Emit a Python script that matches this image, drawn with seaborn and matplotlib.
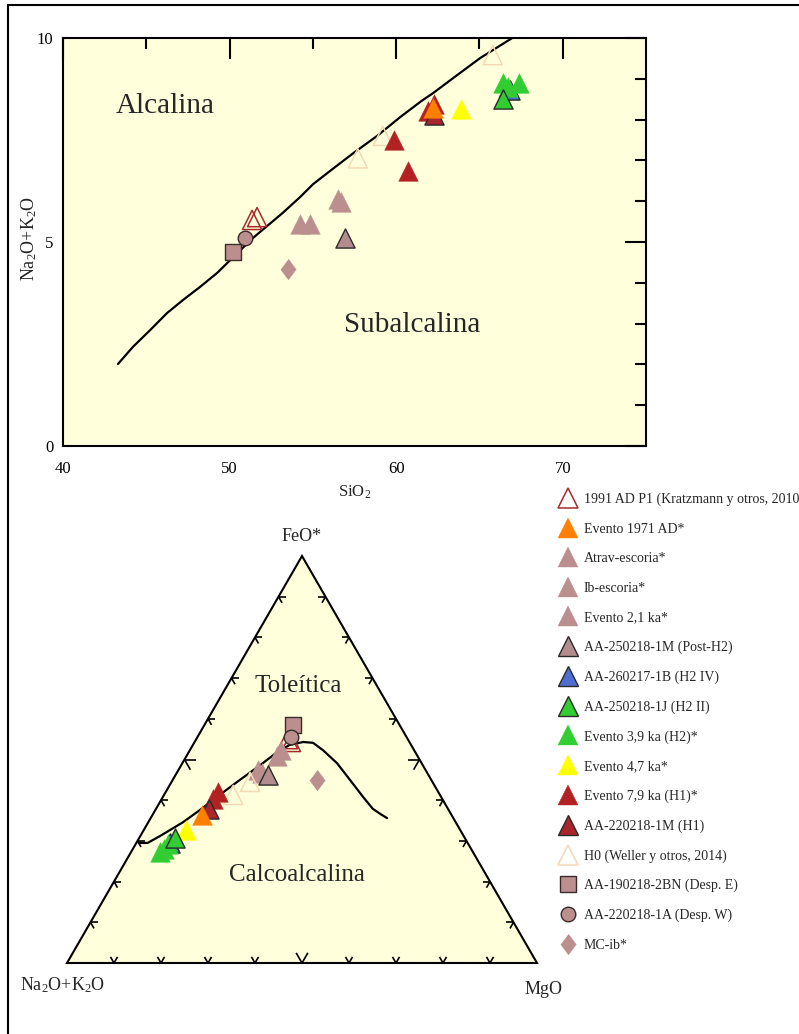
import numpy as np
import pandas as pd
import matplotlib
matplotlib.use("Agg")
import matplotlib.pyplot as plt
from matplotlib.lines import Line2D
from matplotlib.patches import Polygon, Rectangle
import seaborn as sns

# ---------------- data ----------------
legend_labels = [
    "1991 AD P1 (Kratzmann y otros, 2010)",
    "Evento 1971 AD*",
    "Atrav-escoria*",
    "Ib-escoria*",
    "Evento 2,1 ka*",
    "AA-250218-1M (Post-H2)",
    "AA-260217-1B (H2 IV)",
    "AA-250218-1J (H2 II)",
    "Evento 3,9 ka (H2)*",
    "Evento 4,7 ka*",
    "Evento 7,9 ka (H1)*",
    "AA-220218-1M (H1)",
    "H0 (Weller y otros, 2014)",
    "AA-190218-2BN (Desp. E)",
    "AA-220218-1A (Desp. W)",
    "MC-ib*",
]

# TAS: SiO2 vs Na2O+K2O (wt%)
tas_group = [0, 0, 1, 2, 3, 4, 4, 5, 6, 7, 8, 8, 8, 9, 10, 10, 10, 10, 11, 12, 12, 12, 13, 14, 15]
tas_sio2 = [51.35, 51.65, 62.2, 54.2, 54.8, 56.5, 56.7, 56.9, 66.85, 66.4, 66.4, 66.7, 67.4, 63.9,
            59.9, 60.7, 62.3, 61.9, 62.3, 57.7, 59.2, 65.8, 50.2, 50.9, 53.5]
tas_alk = [5.54, 5.61, 8.28, 5.45, 5.45, 6.05, 5.98, 5.1, 8.72, 8.5, 8.9, 8.8, 8.9, 8.25,
           7.5, 6.75, 8.38, 8.22, 8.12, 7.05, 7.6, 9.58, 4.75, 5.1, 4.34]

# Alkaline / subalkaline divide
tas_line_sio2 = [43.3, 44.2, 45.23, 46.25, 47.21, 48.23, 49.25, 50.0, 50.7, 51.35, 52.25, 53.21,
                 54.23, 55.02, 56.22, 57.5, 58.86, 60.24, 61.5, 62.22, 63.66, 65.05, 66.97]
tas_line_alk = [2.01, 2.43, 2.84, 3.26, 3.58, 3.90, 4.24, 4.54, 4.82, 5.08, 5.39, 5.72,
                6.10, 6.42, 6.80, 7.20, 7.60, 8.06, 8.45, 8.65, 9.09, 9.51, 10.0]

# AFM: A = Na2O+K2O, F = FeO*, M = MgO (%)
afm_group = [0, 0, 1, 2, 3, 4, 4, 5, 6, 7, 8, 8, 8, 9, 10, 10, 11, 12, 12, 13, 14, 15]
afm_a = [25.5, 25.2, 53.1, 28.3, 29.9, 35.7, 35.1, 34.1, 63.3, 61.7, 66.5, 65.4, 63.9, 58.3,
         46.9, 48.8, 50.9, 38.8, 44.0, 22.7, 24.6, 24.3]
afm_f = [55.0, 54.3, 36.4, 52.3, 50.9, 47.4, 46.7, 46.2, 29.5, 30.7, 27.3, 28.0, 29.2, 32.7,
         42.0, 40.3, 37.8, 44.5, 41.3, 58.5, 55.5, 45.0]
afm_m = [19.5, 20.5, 10.5, 19.4, 19.2, 16.9, 18.2, 19.7, 7.2, 7.6, 6.2, 6.6, 6.9, 9.0,
         11.1, 10.9, 11.3, 16.7, 14.7, 18.8, 19.9, 30.7]

# Tholeiitic / calc-alkaline divide
afm_line_a = [70.0, 68.1, 64.6, 58.0, 52.9, 47.7, 40.7, 34.6, 29.4, 25.8, 22.6, 20.6,
              19.4, 18.0, 17.3, 16.6, 16.0, 15.0, 14.1]
afm_line_f = [29.5, 29.5, 31.2, 34.6, 37.6, 40.8, 45.0, 48.6, 51.8, 53.6, 54.3, 54.1,
              52.3, 49.1, 45.0, 40.8, 37.9, 36.6, 35.6]
afm_line_m = [0.5, 2.4, 4.2, 7.4, 9.5, 11.5, 14.3, 16.8, 18.8, 20.6, 23.1, 25.3,
              28.3, 32.9, 37.7, 42.6, 46.1, 48.4, 50.3]

# ---------------- styles ----------------
ROSY = "#BC8F8F"
diamond = [(0, 1), (0.75, 0), (0, -1), (-0.75, 0)]
styles = {
    0: dict(marker="^", fc="none", ec="#A52A2A", lw=1.1, s=190),
    1: dict(marker="^", fc="#FF8000", ec="#FF8000", lw=0.3, s=200),
    2: dict(marker="^", fc=ROSY, ec=ROSY, lw=0.3, s=200),
    3: dict(marker="^", fc=ROSY, ec=ROSY, lw=0.3, s=200),
    4: dict(marker="^", fc=ROSY, ec=ROSY, lw=0.3, s=200),
    5: dict(marker="^", fc="#B38D8D", ec="#2a2a2a", lw=1.0, s=190),
    6: dict(marker="^", fc="#4F6FD0", ec="#2a2a2a", lw=1.0, s=190),
    7: dict(marker="^", fc="#32CD32", ec="#2a2a2a", lw=1.0, s=190),
    8: dict(marker="^", fc="#32CD32", ec="#32CD32", lw=0.3, s=200),
    9: dict(marker="^", fc="#FFFF00", ec="#FFFF00", lw=0.3, s=200),
    10: dict(marker="^", fc="#B22222", ec="#B22222", lw=0.3, s=200),
    11: dict(marker="^", fc="#A8262C", ec="#2a2a2a", lw=1.0, s=190),
    12: dict(marker="^", fc="none", ec="#F2D9B5", lw=1.1, s=190),
    13: dict(marker="s", fc=ROSY, ec="#3a2a2a", lw=1.0, s=120),
    14: dict(marker="o", fc=ROSY, ec="#3a2a2a", lw=1.0, s=110),
    15: dict(marker=diamond, fc=ROSY, ec=ROSY, lw=0.3, s=220),
}
draw_order = [0, 2, 3, 4, 5, 12, 10, 11, 1, 9, 6, 8, 7, 13, 14, 15]

BG = "#FFFFDC"
sns.set_theme(style="white")
plt.rcParams["font.family"] = ["Liberation Serif", "DejaVu Serif"]
plt.rcParams["mathtext.fontset"] = "custom"
plt.rcParams["mathtext.rm"] = "Liberation Serif"
plt.rcParams["mathtext.it"] = "Liberation Serif"

W, H = 799, 1034
fig = plt.figure(figsize=(W / 100, H / 100), dpi=100)
fig.patch.set_facecolor("white")

def fx(px):
    return px / W

def fy(py):
    return 1 - py / H

# ---------------- TAS diagram ----------------
ax = fig.add_axes([fx(63), fy(446), (646 - 63) / W, (446 - 38) / H])
ax.set_facecolor(BG)
tas = pd.DataFrame({"g": tas_group, "SiO2": tas_sio2, "Alk": tas_alk})

sns.lineplot(x=tas_line_sio2, y=tas_line_alk, sort=False, estimator=None,
             color="black", linewidth=1.6, ax=ax, zorder=2)

for g in draw_order:
    sub = tas[tas.g == g]
    if sub.empty:
        continue
    st = styles[g]
    sns.scatterplot(data=sub, x="SiO2", y="Alk", marker=st["marker"], s=st["s"],
                    facecolor=st["fc"], edgecolor=st["ec"], linewidth=st["lw"],
                    ax=ax, legend=False, zorder=3)

ax.set_xlim(40, 75)
ax.set_ylim(0, 10)
ax.set_xticks([40, 50, 60, 70])
ax.set_xticks([45, 55, 65], minor=True)
ax.set_yticks([0, 5, 10])
ax.set_yticks([1, 2, 3, 4, 6, 7, 8, 9], minor=True)
ax.tick_params(which="both", direction="in", top=True, right=True, width=1.5,
               colors="black", labelsize=12)
ax.tick_params(axis="x", which="major", pad=10.5)
ax.tick_params(axis="y", which="major", pad=7)
ax.tick_params(which="major", length=15)
ax.tick_params(which="minor", length=8)
for sp in ax.spines.values():
    sp.set_linewidth(1.5)
    sp.set_color("black")
ax.set_xlabel("SiO$_2$", fontsize=12)
ax.set_ylabel("Na$_2$O+K$_2$O", fontsize=13)
ax.xaxis.set_label_coords(0.5, -0.093)
ax.yaxis.set_label_coords(-0.042, 0.51)
ax.text(46.13, 8.33, "Alcalina", fontsize=21, ha="center", va="center")
ax.text(60.96, 2.97, "Subalcalina", fontsize=21, ha="center", va="center")

# ---------------- AFM ternary diagram ----------------
R3 = np.sqrt(3) / 2

def tern(a, f, m):
    a, f, m = (np.asarray(v, dtype=float) for v in (a, f, m))
    t = a + f + m
    return (m + f / 2) / t, f * R3 / t

ax2 = fig.add_axes([fx(67), fy(963), 470 / W, 407 / H])
ax2.set_xlim(0, 1)
ax2.set_ylim(0, R3)
ax2.axis("off")
ax2.add_patch(Polygon([(0, 0), (1, 0), (0.5, R3)], closed=True, facecolor=BG,
                      edgecolor="black", linewidth=1.5, zorder=1, clip_on=False))

# chevron ticks every 10 %
corners = {"A": np.array([0.0, 0.0]), "M": np.array([1.0, 0.0]), "F": np.array([0.5, R3])}
edges = [("A", "M", "F"), ("A", "F", "M"), ("M", "F", "A")]
for p, q, r in edges:
    P, Q, Rr = corners[p], corners[q], corners[r]
    for k in range(1, 10):
        t = k / 10
        base = P + t * (Q - P)
        L = 0.025 if k == 5 else 0.015
        d1 = (Rr - P) / np.linalg.norm(Rr - P)
        d2 = (Rr - Q) / np.linalg.norm(Rr - Q)
        for d in (d1, d2):
            ax2.plot([base[0], base[0] + L * d[0]], [base[1], base[1] + L * d[1]],
                     color="black", lw=1.2, solid_capstyle="butt", clip_on=False, zorder=2)

lx, ly = tern(afm_line_a, afm_line_f, afm_line_m)
sns.lineplot(x=lx, y=ly, sort=False, estimator=None, color="black", linewidth=1.6,
             ax=ax2, zorder=2)

ax_, ay_ = tern(afm_a, afm_f, afm_m)
afm = pd.DataFrame({"g": afm_group, "x": ax_, "y": ay_})
for g in draw_order:
    sub = afm[afm.g == g]
    if sub.empty:
        continue
    st = styles[g]
    sns.scatterplot(data=sub, x="x", y="y", marker=st["marker"], s=st["s"],
                    facecolor=st["fc"], edgecolor=st["ec"], linewidth=st["lw"],
                    ax=ax2, legend=False, zorder=3, clip_on=False)

ax2.text(0.5, 0.9085, "FeO*", fontsize=13, ha="center", va="center")
ax2.text(-0.0085, -0.047, "Na$_2$O+K$_2$O", fontsize=13, ha="center", va="center")
ax2.text(1.013, -0.057, "MgO", fontsize=13, ha="center", va="center")
ax2.text(0.491, 0.589, "Toleítica", fontsize=18, ha="center", va="center")
ax2.text(0.489, 0.187, "Calcoalcalina", fontsize=18, ha="center", va="center")

# ---------------- legend ----------------
handles = []
for g in range(len(legend_labels)):
    st = styles[g]
    ms = np.sqrt(st["s"])
    handles.append(Line2D([], [], linestyle="none", marker=st["marker"], markersize=ms,
                          markerfacecolor=st["fc"], markeredgecolor=st["ec"],
                          markeredgewidth=st["lw"]))
fig.legend(handles, legend_labels, loc="upper left", bbox_to_anchor=(fx(558), fy(493)),
           frameon=False, fontsize=10, handlelength=1.4, handletextpad=0.45,
           labelspacing=1.18, borderpad=0, borderaxespad=0)

# frame around the figure
fig.add_artist(Rectangle((fx(8), -0.02), 1.2, fy(5) + 0.02, transform=fig.transFigure,
                         fill=False, edgecolor="black", linewidth=1.5, clip_on=False))

fig.savefig("out.png", dpi=100)
